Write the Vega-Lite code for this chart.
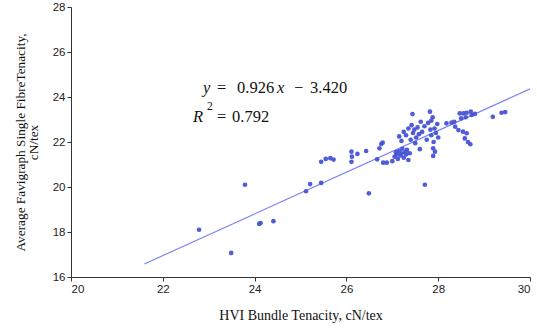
{
  "$schema": "https://vega.github.io/schema/vega-lite/v6.json",
  "width": 459,
  "height": 270,
  "autosize": {"type": "none"},
  "padding": {"left": 71, "top": 7, "right": 7, "bottom": 55},
  "background": "white",
  "config": {
    "view": {"stroke": null},
    "axis": {
      "grid": false,
      "domainColor": "#333333",
      "tickColor": "#333333",
      "tickSize": 4,
      "labelColor": "#222222",
      "labelFont": "Liberation Sans",
      "labelFontSize": 11.5,
      "labelPadding": 2,
      "titleFont": "Liberation Serif",
      "titleFontWeight": "normal",
      "titleColor": "#111111"
    }
  },
  "datasets": {
    "pts": [
      {"hvi": 22.79, "fav": 18.10}, {"hvi": 23.49, "fav": 17.07}, {"hvi": 23.79, "fav": 20.10},
      {"hvi": 24.10, "fav": 18.36}, {"hvi": 24.13, "fav": 18.40}, {"hvi": 24.41, "fav": 18.48},
      {"hvi": 25.12, "fav": 19.81}, {"hvi": 25.21, "fav": 20.13}, {"hvi": 25.45, "fav": 20.18},
      {"hvi": 25.45, "fav": 21.12}, {"hvi": 25.55, "fav": 21.25}, {"hvi": 25.65, "fav": 21.28},
      {"hvi": 25.72, "fav": 21.22}, {"hvi": 26.11, "fav": 21.57}, {"hvi": 26.12, "fav": 21.35},
      {"hvi": 26.11, "fav": 21.12}, {"hvi": 26.24, "fav": 21.47}, {"hvi": 26.43, "fav": 21.60},
      {"hvi": 26.49, "fav": 19.72}, {"hvi": 26.67, "fav": 21.23}, {"hvi": 26.72, "fav": 21.72},
      {"hvi": 26.76, "fav": 21.91}, {"hvi": 26.79, "fav": 21.97}, {"hvi": 26.80, "fav": 21.08},
      {"hvi": 26.88, "fav": 21.08}, {"hvi": 27.00, "fav": 21.15}, {"hvi": 27.05, "fav": 21.35},
      {"hvi": 27.08, "fav": 21.55}, {"hvi": 27.10, "fav": 21.45}, {"hvi": 27.12, "fav": 21.25},
      {"hvi": 27.15, "fav": 21.60}, {"hvi": 27.18, "fav": 21.40}, {"hvi": 27.20, "fav": 21.50},
      {"hvi": 27.22, "fav": 21.70}, {"hvi": 27.25, "fav": 21.30}, {"hvi": 27.28, "fav": 21.55},
      {"hvi": 27.30, "fav": 21.45}, {"hvi": 27.32, "fav": 21.65}, {"hvi": 27.35, "fav": 21.20},
      {"hvi": 27.38, "fav": 21.50}, {"hvi": 27.15, "fav": 22.25}, {"hvi": 27.20, "fav": 22.05},
      {"hvi": 27.25, "fav": 22.45}, {"hvi": 27.30, "fav": 22.30}, {"hvi": 27.35, "fav": 22.60},
      {"hvi": 27.40, "fav": 22.10}, {"hvi": 27.42, "fav": 22.75}, {"hvi": 27.45, "fav": 22.40},
      {"hvi": 27.48, "fav": 22.55}, {"hvi": 27.50, "fav": 21.95}, {"hvi": 27.52, "fav": 22.20},
      {"hvi": 27.55, "fav": 22.65}, {"hvi": 27.58, "fav": 22.35}, {"hvi": 27.44, "fav": 23.24},
      {"hvi": 27.60, "fav": 21.68}, {"hvi": 27.62, "fav": 22.90}, {"hvi": 27.65, "fav": 22.45},
      {"hvi": 27.70, "fav": 22.70}, {"hvi": 27.71, "fav": 20.10}, {"hvi": 27.75, "fav": 22.10},
      {"hvi": 27.78, "fav": 22.85}, {"hvi": 27.82, "fav": 23.35}, {"hvi": 27.83, "fav": 22.55},
      {"hvi": 27.85, "fav": 22.30}, {"hvi": 27.85, "fav": 22.95}, {"hvi": 27.88, "fav": 23.10},
      {"hvi": 27.89, "fav": 21.72}, {"hvi": 27.93, "fav": 21.57}, {"hvi": 27.89, "fav": 21.38},
      {"hvi": 27.90, "fav": 22.00}, {"hvi": 27.92, "fav": 22.60}, {"hvi": 27.95, "fav": 22.40},
      {"hvi": 27.98, "fav": 22.80}, {"hvi": 28.00, "fav": 22.20}, {"hvi": 28.18, "fav": 22.83},
      {"hvi": 28.29, "fav": 22.86}, {"hvi": 28.35, "fav": 22.90}, {"hvi": 28.37, "fav": 22.68},
      {"hvi": 28.44, "fav": 22.53}, {"hvi": 28.54, "fav": 22.46}, {"hvi": 28.62, "fav": 22.39},
      {"hvi": 28.58, "fav": 22.16}, {"hvi": 28.65, "fav": 22.00}, {"hvi": 28.70, "fav": 21.90},
      {"hvi": 28.47, "fav": 23.27}, {"hvi": 28.55, "fav": 23.27}, {"hvi": 28.62, "fav": 23.30},
      {"hvi": 28.71, "fav": 23.35}, {"hvi": 28.73, "fav": 23.20}, {"hvi": 28.60, "fav": 23.10},
      {"hvi": 28.50, "fav": 23.05}, {"hvi": 28.80, "fav": 23.25}, {"hvi": 29.19, "fav": 23.12},
      {"hvi": 29.38, "fav": 23.30}, {"hvi": 29.46, "fav": 23.33}
    ],
    "fit": [
      {"hvi": 21.6, "fav": 16.58},
      {"hvi": 30.0, "fav": 24.36}
    ],
    "notes": [
      {"hvi": 22.876, "fav": 24.4, "label": "y", "part": "var"},
      {"hvi": 23.181, "fav": 24.4, "label": "=", "part": "num"},
      {"hvi": 23.617, "fav": 24.4, "label": "0.926", "part": "num"},
      {"hvi": 24.488, "fav": 24.4, "label": "x", "part": "var"},
      {"hvi": 24.858, "fav": 24.4, "label": "−", "part": "num"},
      {"hvi": 25.207, "fav": 24.4, "label": "3.420", "part": "num"},
      {"hvi": 22.658, "fav": 23.11, "label": "R", "part": "var"},
      {"hvi": 22.963, "fav": 23.55, "label": "2", "part": "sup"},
      {"hvi": 23.181, "fav": 23.11, "label": "=", "part": "num"},
      {"hvi": 23.508, "fav": 23.11, "label": "0.792", "part": "num"}
    ]
  },
  "layer": [
    {
      "data": {"name": "fit"},
      "mark": {"type": "line", "color": "#7f86f0", "strokeWidth": 1.2},
      "encoding": {
        "x": {"field": "hvi", "type": "quantitative", "scale": {"domain": [20, 30], "nice": false, "zero": false},
          "axis": {"values": [20, 22, 24, 26, 28, 30], "title": "HVI Bundle Tenacity, cN/tex", "titlePadding": 14, "titleFontSize": 14}},
        "y": {"field": "fav", "type": "quantitative", "scale": {"domain": [16, 28], "nice": false, "zero": false},
          "axis": {"values": [16, 18, 20, 22, 24, 26, 28], "title": ["Average Favigraph Single FibreTenacity,", "cN/tex"], "titlePadding": 12, "titleFontSize": 13.3, "titleLineHeight": 13}}
      }
    },
    {
      "data": {"name": "pts"},
      "mark": {"type": "circle", "color": "#4753d6", "opacity": 0.95, "size": 22},
      "encoding": {
        "x": {"field": "hvi", "type": "quantitative"},
        "y": {"field": "fav", "type": "quantitative"}
      }
    },
    {
      "data": {"name": "notes"},
      "transform": [{"filter": "datum.part === 'var'"}],
      "mark": {"type": "text", "align": "left", "baseline": "middle", "font": "Liberation Serif", "fontSize": 16.5, "fontStyle": "italic", "color": "#111111"},
      "encoding": {
        "x": {"field": "hvi", "type": "quantitative"},
        "y": {"field": "fav", "type": "quantitative"},
        "text": {"field": "label"}
      }
    },
    {
      "data": {"name": "notes"},
      "transform": [{"filter": "datum.part === 'num'"}],
      "mark": {"type": "text", "align": "left", "baseline": "middle", "font": "Liberation Serif", "fontSize": 16.5, "color": "#111111"},
      "encoding": {
        "x": {"field": "hvi", "type": "quantitative"},
        "y": {"field": "fav", "type": "quantitative"},
        "text": {"field": "label"}
      }
    },
    {
      "data": {"name": "notes"},
      "transform": [{"filter": "datum.part === 'sup'"}],
      "mark": {"type": "text", "align": "left", "baseline": "middle", "font": "Liberation Serif", "fontSize": 11.5, "color": "#111111"},
      "encoding": {
        "x": {"field": "hvi", "type": "quantitative"},
        "y": {"field": "fav", "type": "quantitative"},
        "text": {"field": "label"}
      }
    }
  ]
}
